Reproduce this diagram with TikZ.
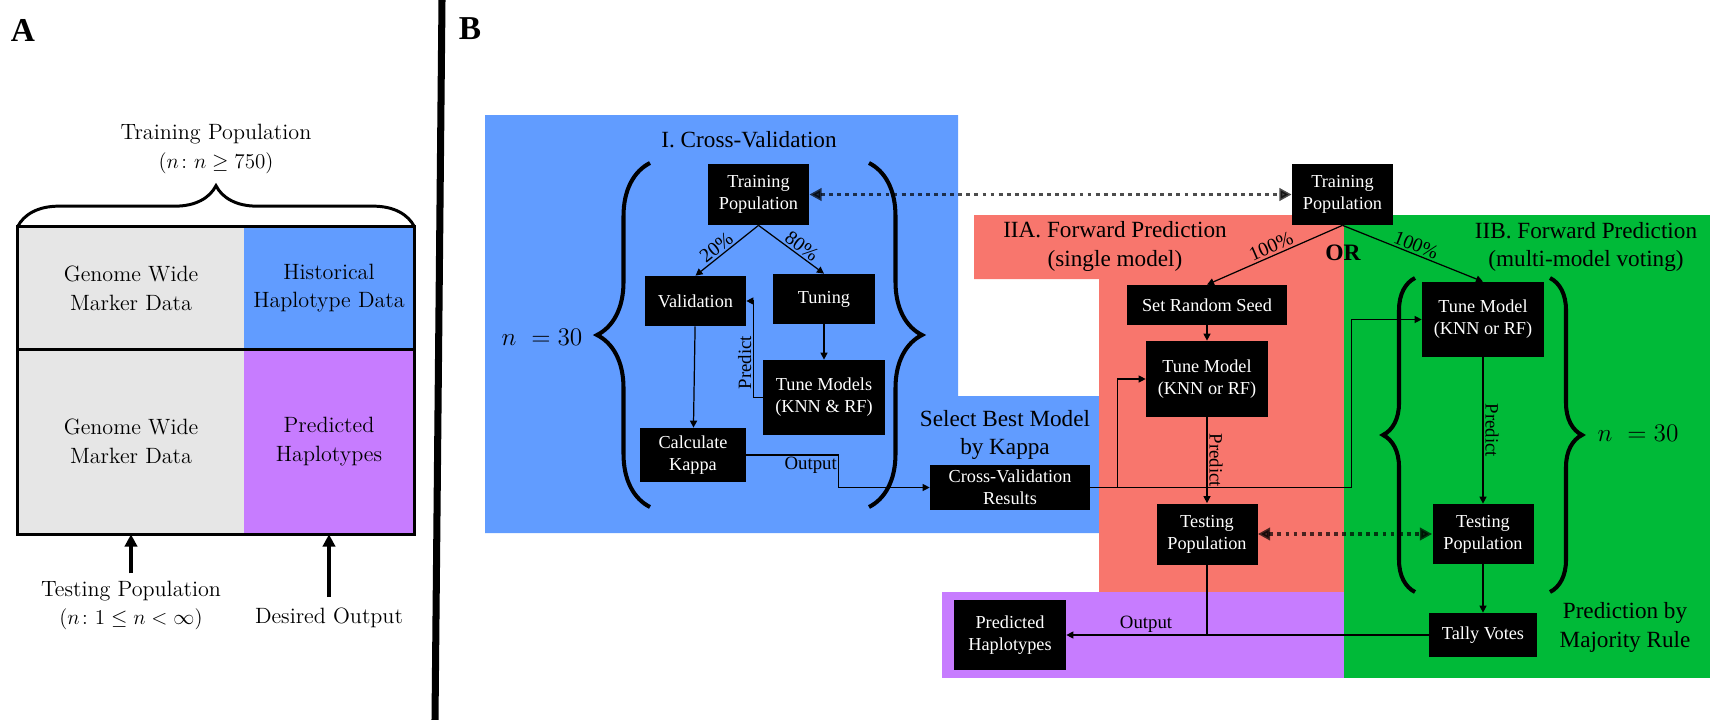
\documentclass[tikz,border=0pt]{standalone}
\usepackage{fontspec}
\usepackage{amsmath}
\usetikzlibrary{arrows.meta,decorations.pathreplacing}
\newfontfamily\tnr{Liberation Serif}
\newcommand\bxfont{\tnr\fontsize{10.4}{12.5}\selectfont}
\newcommand\lblfont{\tnr\fontsize{13.2}{16.4}\selectfont}
\newcommand\edgefont{\tnr\fontsize{10.7}{12.5}\selectfont}
\newcommand\pctfont{\tnr\fontsize{11.2}{13}\selectfont}
\newcommand\afont{\fontsize{12.6}{16.4}\selectfont}
\definecolor{cvblue}{HTML}{619CFF}
\definecolor{fpred}{HTML}{F8766D}
\definecolor{mvgreen}{HTML}{00BA38}
\definecolor{hapurple}{HTML}{C77CFF}
\definecolor{cellgray}{HTML}{E6E6E6}

\begin{document}
\begin{tikzpicture}[x=0.02cm,y=-0.02cm,
  cell/.style={inner sep=0pt,align=center,font=\afont},
  bx/.style={fill=black,text=white,align=center,inner sep=0pt,font=\bxfont},
  lbl/.style={align=center,font=\lblfont},
  elbl/.style={font=\edgefont,inner sep=1pt},
  pct/.style={font=\pctfont,inner sep=1pt,above,sloped},
  arr/.style={-{Triangle[length=4pt,width=4pt]},line width=0.7pt},
  dotarr/.style={{Triangle[length=7pt,width=7pt]}-{Triangle[length=7pt,width=7pt]},line width=2.2pt,dash pattern=on 2.2pt off 2.4pt,opacity=0.7},
  bigarr/.style={-{Triangle[length=7pt,width=7pt]},line width=2.5pt},
  bbrace/.style={decorate,decoration={brace,amplitude=#1},line width=2.3pt}]
\useasboundingbox (0,0) rectangle (1728,720);

% panel A
\node[font=\tnr\fontsize{19}{22}\selectfont\bfseries] (la) at (23,30) {A};
\node[cell,fill=cellgray,minimum width=4.52cm,minimum height=2.44cm] (gw1) at (131,288) {Genome Wide\\Marker Data};
\node[cell,fill=cvblue,minimum width=3.4cm,minimum height=2.44cm] (hh) at (329,288) {Historical\\Haplotype Data};
\node[cell,fill=cellgray,minimum width=4.52cm,minimum height=3.7cm] (gw2) at (131,441.5) {Genome Wide\\Marker Data};
\node[cell,fill=hapurple,minimum width=3.4cm,minimum height=3.7cm] (ph) at (329,441.5) {Predicted\\Haplotypes};
\draw[line width=2pt] (gw1.north west) rectangle (ph.south east);
\draw[line width=2pt] (gw1.south west) -- (hh.south east);
\draw[decorate,decoration={brace,amplitude=0.82cm},line width=1.7pt] (gw1.north west) -- (hh.north east);
\node[cell] (trpop) at (216,149) {Training Population\\$(n\colon n\geq 750)$};
\node[cell,inner sep=4pt] (tstpop) at (131,605.5) {Testing Population\\$(n\colon 1\leq n<\infty)$};
\node[cell,inner sep=6pt] (desout) at (329,618) {Desired Output};
\draw[bigarr] (tstpop.north) -- (gw2.south);
\draw[bigarr] (desout.north) -- (ph.south);

\draw[line width=4pt] (442,0) -- (435,720);

% panel B
\fill[cvblue] (485,115) rectangle (958,533) (958,396) rectangle (1099,533);
\fill[fpred] (974,215) rectangle (1344,279) (1099,279) rectangle (1344,592);
\fill[mvgreen] (1344,215) rectangle (1710,678);
\fill[hapurple] (942,592) rectangle (1344,678);
\node[font=\tnr\fontsize{19}{22}\selectfont\bfseries] (lb) at (470,29) {B};

\node[lbl] (cvlbl) at (749,140) {I. Cross-Validation};
\node[lbl] (sellbl) at (1005,435) {Select Best Model\\by Kappa};
\node[lbl] (iialbl) at (1115,246.5) {IIA. Forward Prediction\\(single model)};
\node[lbl] (iiblbl) at (1586,247) {IIB. Forward Prediction\\(multi-model voting)};
\node[lbl] (majlbl) at (1625,627.5) {Prediction by\\Majority Rule};
\node[font=\tnr\fontsize{13.4}{16}\selectfont\bfseries] (orlbl) at (1343,253) {OR};
\node[font=\fontsize{15}{18}\selectfont] (nleft) at (542,337) {$n\ = 30$};
\node[font=\fontsize{15}{18}\selectfont] (nright) at (1638,433) {$n\ = 30$};

\node[bx,minimum width=2.02cm,minimum height=1.22cm] (cvtrain) at (758.5,194.5) {Training\\Population};
\node[bx,minimum width=2.02cm,minimum height=1cm] (val) at (695.5,301) {Validation};
\node[bx,minimum width=2.04cm,minimum height=1cm] (tun) at (824,299) {Tuning};
\node[bx,minimum width=2.44cm,minimum height=1.5cm] (tms) at (824,397.5) {Tune Models\\(KNN \& RF)};
\node[bx,minimum width=2.12cm,minimum height=1.08cm] (kappa) at (693,455) {Calculate\\Kappa};
\node[bx,minimum width=3.2cm,minimum height=0.9cm] (cvres) at (1010,487.5) {Cross-Validation\\Results};
\node[bx,minimum width=2.02cm,minimum height=1.22cm] (train) at (1342.5,194.5) {Training\\Population};
\node[bx,minimum width=3.22cm,minimum height=0.8cm] (seed) at (1207,305) {Set Random Seed};
\node[bx,minimum width=2.44cm,minimum height=1.52cm] (tma) at (1207,379) {Tune Model\\(KNN or RF)};
\node[bx,minimum width=2.02cm,minimum height=1.22cm] (tsta) at (1207,534) {Testing\\Population};
\node[bx,minimum width=2.44cm,minimum height=1.5cm] (tmb) at (1483,319.5) {Tune Model\\(KNN or RF)};
\node[bx,minimum width=2.02cm,minimum height=1.2cm] (tstb) at (1483,534) {Testing\\Population};
\node[bx,minimum width=2.16cm,minimum height=0.88cm] (tally) at (1483,635) {Tally Votes};
\node[bx,minimum width=2.24cm,minimum height=1.4cm] (predh) at (1010,635) {Predicted\\Haplotypes};

\draw[arr] (cvtrain.south) -- (val.north) node[pct,pos=0.58] {20\%};
\draw[arr] (cvtrain.south) -- (tun.north) node[pct,pos=0.58] {80\%};
\draw[arr] (val) -- (kappa);
\draw[arr] (tun) -- (tms);
\draw[arr] (tms.west) -- ++(-9,0) |- (val.east) node[pos=0.18,rotate=90,anchor=south,elbl] {Predict};
\draw[arr] (kappa.east) -- ++(92,0) node[pos=0.7,below,elbl] {Output} |- (cvres.west);
\draw[dotarr] (cvtrain.east) -- (train.west);
\draw[arr] (train.south) -- (seed.north) node[pct,midway] {100\%};
\draw[arr] (train.south) -- (tmb.north) node[pct,midway] {100\%};
\draw[arr] (cvres.east) -- ++(27,0) |- (tma.west);
\draw[arr] (cvres.east) -- ++(261,0) |- (tmb.west);
\draw[arr] (seed) -- (tma);
\draw[arr] (tma) -- (tsta) node[midway,rotate=-90,anchor=south,elbl] {Predict};
\draw[arr] (tmb) -- (tstb) node[midway,rotate=-90,anchor=south,elbl] {Predict};
\draw[arr] (tstb) -- (tally);
\draw[dotarr] (tsta.east) -- (tstb.west);
\draw[arr] (tally) -- (predh) node[pos=0.78,above,elbl] {Output};
\draw[line width=0.7pt] (tsta.south) -- (tsta.south |- predh.east);

% braces
\draw[bbrace=1.06cm] (650,507) -- (650,163);
\draw[bbrace=1.06cm] (869,163) -- (869,507);
\draw[bbrace=0.64cm] (1415,592) -- (1415,278);
\draw[bbrace=0.64cm] (1550,278) -- (1550,592);
\end{tikzpicture}
\end{document}
